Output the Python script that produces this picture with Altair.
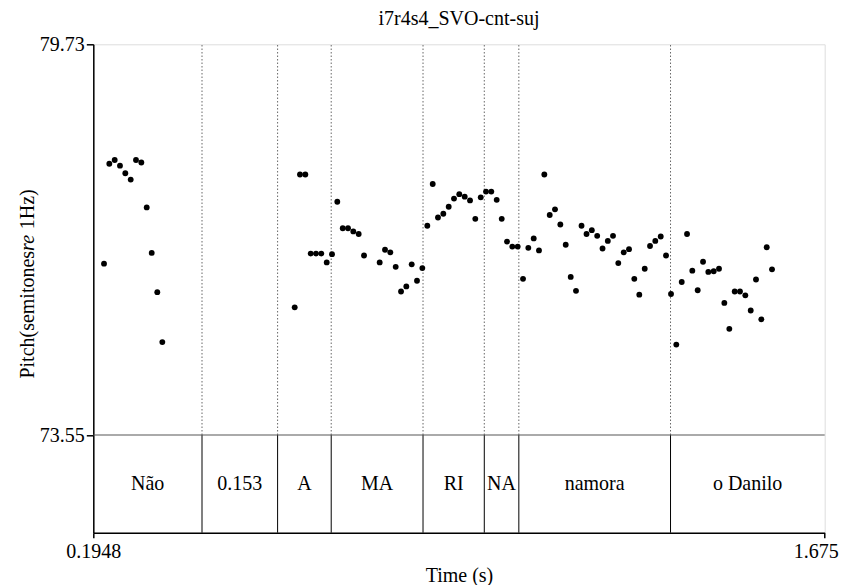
import altair as alt
import pandas as pd

# ---- data ----
TITLE = "i7r4s4_SVO-cnt-suj"
T_MIN, T_MAX = 0.1948, 1.675
P_MIN, P_MAX = 73.55, 79.73
TIER_BOTTOM = 72.005   # lower edge of the text-grid tier (pitch units)
TIER_MID = 72.775

times = [
    0.2165, 0.2272, 0.2381, 0.2488, 0.2596, 0.2705, 0.2812, 0.2920, 0.3029, 0.3130, 0.3243, 0.3345,
    0.6024, 0.6131, 0.6239, 0.6348, 0.6455, 0.6562, 0.6672, 0.6779, 0.6886, 0.6996, 0.7103, 0.7210,
    0.7319, 0.7427, 0.7744, 0.7852, 0.7959, 0.8068, 0.8176, 0.8283, 0.8392, 0.8499, 0.8607, 0.8708,
    0.8817, 0.8924, 0.9032, 0.9141, 0.9248, 0.9355, 0.9465, 0.9572, 0.9679, 0.9789, 0.9896, 1.0003,
    1.0112, 1.0214, 1.0321, 1.0428, 1.0537, 1.0645, 1.0752, 1.0861, 1.0968, 1.1076, 1.1185, 1.1292,
    1.1400, 1.1509, 1.1610, 1.1717, 1.1829, 1.1930, 1.2037, 1.2146, 1.2254, 1.2361, 1.2466, 1.2573,
    1.2683, 1.2790, 1.2897, 1.2998, 1.3108, 1.3215, 1.3322, 1.3432, 1.3539, 1.3640, 1.3747, 1.3857,
    1.3964, 1.4071, 1.4180, 1.4288, 1.4395, 1.4504, 1.4611, 1.4719, 1.4820, 1.4929, 1.5036, 1.5144,
    1.5253, 1.5360, 1.5468, 1.5577, 1.5684,
]
pitch = [
    76.26, 77.84, 77.90, 77.81, 77.69, 77.59, 77.90, 77.86, 77.15, 76.43, 75.81, 75.02,
    75.57, 77.67, 77.67, 76.42, 76.42, 76.42, 76.28, 76.41, 77.24, 76.82, 76.82, 76.77,
    76.73, 76.39, 76.28, 76.48, 76.44, 76.21, 75.82, 75.90, 76.25, 75.99, 76.19, 76.86,
    77.52, 76.99, 77.05, 77.16, 77.29, 77.36, 77.32, 77.26, 76.97, 77.31, 77.40, 77.40,
    77.27, 76.97, 76.61, 76.53, 76.53, 76.02, 76.51, 76.66, 76.47, 77.67, 77.03, 77.12,
    76.88, 76.56, 76.05, 75.83, 76.86, 76.73, 76.79, 76.70, 76.50, 76.62, 76.70, 76.27,
    76.44, 76.49, 76.02, 75.77, 76.18, 76.54, 76.62, 76.69, 76.39, 75.78, 74.98, 75.97,
    76.73, 76.15, 75.84, 76.29, 76.13, 76.14, 76.18, 75.64, 75.23, 75.82, 75.82, 75.76,
    75.52, 76.01, 75.38, 76.52, 76.17,
]

seg_start = [0.1948, 0.4148, 0.5678, 0.6763, 0.8621, 0.9861, 1.0560, 1.3630]
seg_end   = [0.4148, 0.5678, 0.6763, 0.8621, 0.9861, 1.0560, 1.3630, 1.6750]
seg_label = ["Não", "0.153", "A", "MA", "RI", "NA", "namora", "o Danilo"]
boundaries = [0.4148, 0.5678, 0.6763, 0.8621, 0.9861, 1.0560, 1.3630]

FONT = "'Liberation Serif', 'Times New Roman', Times, 'DejaVu Serif', serif"
FS = 20

pts = pd.DataFrame({"t": times, "p": pitch})
segs = pd.DataFrame({"s": seg_start, "e": seg_end, "label": seg_label})
segs["mid"] = (segs["s"] + segs["e"]) / 2
segs["ym"] = TIER_MID
bnd = pd.DataFrame({"t": boundaries, "lo": P_MIN, "hi": P_MAX, "blo": TIER_BOTTOM})
hline = pd.DataFrame({"y": [P_MIN]})

xscale = alt.Scale(domain=[T_MIN, T_MAX], nice=False, zero=False)
yscale = alt.Scale(domain=[TIER_BOTTOM, P_MAX], nice=False, zero=False)

xaxis = alt.Axis(
    values=[T_MIN, T_MAX], labelExpr="'' + datum.value", grid=False,
    title="Time (s)", titleFont=FONT, titleFontSize=FS, titleFontWeight="normal",
    titleColor="black", titleBaseline="alphabetic", titleY=49,
    labelFont=FONT, labelFontSize=FS, labelColor="black", labelFlush=False,
    labelOverlap=False, labelBaseline="alphabetic", labelPadding=20,
    labelOffset={"condition": {"test": "datum.value > 1", "value": -9}, "value": 0},
    tickSize=5, tickColor="black", tickWidth=1.5, domainColor="black", domainWidth=1.5,
)
yaxis = alt.Axis(
    values=[P_MIN, P_MAX], format=".2f", grid=False, title=None,
    labelFont=FONT, labelFontSize=FS, labelColor="black", labelFlush=False,
    labelOverlap=False, labelBaseline="middle", labelPadding=2,
    tickSize=7, tickColor="black", tickWidth=1.5, domainColor="black", domainWidth=1.5,
)

base_pts = alt.Chart(pts).mark_circle(size=34, color="black", opacity=1).encode(
    x=alt.X("t:Q", scale=xscale, axis=xaxis),
    y=alt.Y("p:Q", scale=yscale, axis=yaxis),
)

dotted = alt.Chart(bnd).mark_rule(color="#666666", strokeWidth=1, strokeDash=[1.5, 2]).encode(
    x="t:Q", y="lo:Q", y2="hi:Q"
)
solid = alt.Chart(bnd).mark_rule(color="black", strokeWidth=1).encode(
    x="t:Q", y="blo:Q", y2="lo:Q"
)
hrule = alt.Chart(hline).mark_rule(color="#555555", strokeWidth=1).encode(y="y:Q")

labels = alt.Chart(segs).mark_text(font=FONT, fontSize=FS, color="black", baseline="middle").encode(
    x="mid:Q", y="ym:Q", text="label:N"
)

one = pd.DataFrame({"a": [0]})
YL_X = -59
yl1 = alt.Chart(one).mark_text(angle=270, align="right", baseline="alphabetic", font=FONT,
                               fontSize=FS, color="black").encode(
    x=alt.value(YL_X), y=alt.value(206.6), text=alt.value("Pitch(semitones"))
yl2 = alt.Chart(one).mark_text(angle=270, align="left", baseline="alphabetic", font=FONT,
                               fontSize=FS, fontStyle="italic", color="black").encode(
    x=alt.value(YL_X), y=alt.value(206.6), text=alt.value("re"))
yl3 = alt.Chart(one).mark_text(angle=270, align="left", baseline="alphabetic", font=FONT,
                               fontSize=FS, color="black").encode(
    x=alt.value(YL_X), y=alt.value(184.9), text=alt.value("1Hz)"))

chart = alt.layer(dotted, solid, hrule, labels, base_pts, yl1, yl2, yl3).properties(
    width=731.4, height=488.4,
    title=alt.TitleParams(TITLE, font=FONT, fontSize=FS, fontWeight="normal", color="black",
                          anchor="middle", frame="group", offset=5),
    autosize=alt.AutoSizeParams(type="none"),
    padding={"left": 85.3, "top": 36.3, "right": 16, "bottom": 52},
).configure_view(stroke="black", strokeWidth=1.5).configure(background="white")

chart.save("out.html", embed_options={"renderer": "svg", "actions": False})
